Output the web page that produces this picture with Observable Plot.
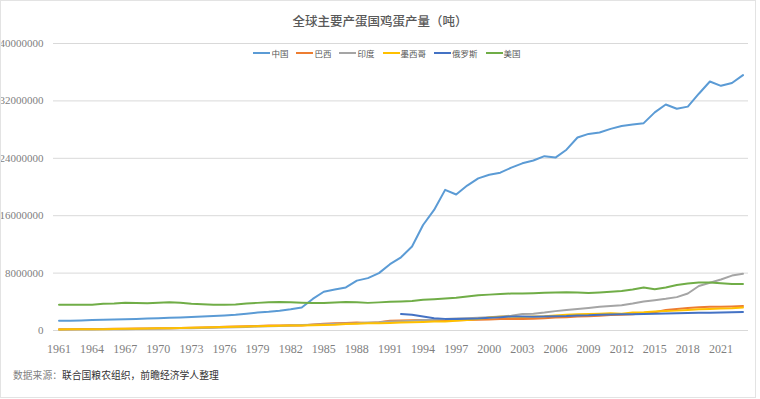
<!DOCTYPE html>
<html>
<head>
<meta charset="utf-8">
<script src="https://cdn.jsdelivr.net/npm/d3@7"></script>
<script src="https://cdn.jsdelivr.net/npm/@observablehq/plot@0.6"></script>
<style>
  html, body { margin: 0; padding: 0; background: #fff; }
  #wrap { position: relative; width: 760px; height: 399px; overflow: hidden; }
  #frame { position: absolute; left: 0; top: 0; width: 754px; height: 396px; border: 1px solid #e3e3e3; pointer-events: none; }
  #title { position: absolute; left: 0; width: 760px; top: 11px; text-align: center;
           font-family: "Noto Sans CJK SC", sans-serif; font-size: 12.5px; font-weight: 500; color: #595959; }
  #legend { position: absolute; left: 0; width: 774px; top: 47px; display: flex; justify-content: center; gap: 8px;
            font-family: "Noto Sans CJK SC", sans-serif; font-size: 8.5px; color: #595959; }
  #legend .item { display: flex; align-items: center; gap: 1px; }
  #legend .sw { width: 17px; height: 2px; display: inline-block; }
  #caption { position: absolute; left: 13px; top: 368px; font-family: "Noto Sans CJK SC", sans-serif; font-size: 9.8px; color: #333; }
  #caption .lab { color: #808080; }
  svg { position: absolute; left: 0; top: 0; }
  svg text { font-family: "Liberation Serif", "DejaVu Serif", serif; }
</style>
</head>
<body>
<div id="wrap">
  <div id="chart"></div>
  <div id="title">全球主要产蛋国鸡蛋产量（吨）</div>
  <div id="legend"></div>
  <div id="caption"><span class="lab">数据来源：</span>联合国粮农组织，前瞻经济学人整理</div>
  <div id="frame"></div>
</div>
<script>
const years = [1961,1962,1963,1964,1965,1966,1967,1968,1969,1970,
  1971,1972,1973,1974,1975,1976,1977,1978,1979,1980,
  1981,1982,1983,1984,1985,1986,1987,1988,1989,1990,
  1991,1992,1993,1994,1995,1996,1997,1998,1999,2000,
  2001,2002,2003,2004,2005,2006,2007,2008,2009,2010,
  2011,2012,2013,2014,2015,2016,2017,2018,2019,2020,
  2021,2022,2023];

const seriesNames = ["中国","巴西","印度","墨西哥","俄罗斯","美国"];
const seriesColors = ["#5B9BD5","#ED7D31","#A5A5A5","#FFC000","#4472C4","#70AD47"];

// values in million tonnes (converted to tonnes below)
const china = [1.35,1.37,1.40,1.45,1.50,1.53,1.58,1.62,1.66,1.70,
  1.76,1.82,1.88,1.94,2.02,2.10,2.20,2.35,2.50,2.60,
  2.75,2.95,3.20,4.40,5.40,5.70,6.00,6.95,7.30,8.00,
  9.24,10.2,11.7,14.7,16.8,19.6,18.95,20.2,21.2,21.7,
  22.0,22.7,23.3,23.7,24.3,24.1,25.2,26.9,27.4,27.6,
  28.1,28.5,28.7,28.9,30.4,31.5,30.9,31.2,33.0,34.7,
  34.1,34.5,35.6];
const brazil = [0.18,0.19,0.20,0.21,0.22,0.23,0.25,0.27,0.29,0.30,
  0.32,0.35,0.38,0.42,0.46,0.52,0.56,0.60,0.64,0.68,
  0.70,0.72,0.70,0.82,0.95,1.00,1.05,1.10,1.05,1.15,
  1.35,1.40,1.42,1.45,1.48,1.45,1.42,1.45,1.50,1.55,
  1.60,1.60,1.60,1.65,1.72,1.80,1.85,1.95,2.00,2.05,
  2.15,2.20,2.25,2.40,2.55,2.85,3.00,3.15,3.25,3.30,
  3.30,3.35,3.43];
const india = [0.12,0.13,0.14,0.15,0.16,0.17,0.19,0.21,0.23,0.25,
  0.27,0.30,0.33,0.35,0.38,0.42,0.46,0.50,0.55,0.60,
  0.64,0.70,0.75,0.80,0.88,0.92,0.96,1.00,1.10,1.15,
  1.25,1.30,1.35,1.45,1.50,1.60,1.68,1.72,1.78,1.85,
  1.95,2.05,2.30,2.35,2.50,2.70,2.85,3.00,3.15,3.30,
  3.40,3.52,3.75,4.05,4.23,4.42,4.65,5.15,6.20,6.65,
  7.10,7.65,7.90];
const mexico = [0.15,0.16,0.17,0.18,0.19,0.21,0.23,0.25,0.27,0.30,
  0.33,0.36,0.40,0.42,0.45,0.48,0.52,0.56,0.60,0.62,
  0.65,0.68,0.70,0.72,0.75,0.80,0.90,0.95,1.00,1.00,
  1.05,1.10,1.15,1.20,1.24,1.25,1.35,1.45,1.60,1.80,
  1.90,1.90,1.88,1.95,2.00,2.10,2.20,2.25,2.30,2.35,
  2.40,2.35,2.50,2.55,2.65,2.72,2.77,2.87,2.95,3.00,
  3.05,3.10,3.20];
const russia = [null,null,null,null,null,null,null,null,null,null,
  null,null,null,null,null,null,null,null,null,null,
  null,null,null,null,null,null,null,null,null,null,
  null,2.30,2.18,1.95,1.72,1.62,1.62,1.65,1.68,1.77,
  1.86,1.95,1.95,1.90,1.95,2.00,2.02,2.08,2.12,2.20,
  2.22,2.25,2.27,2.30,2.35,2.38,2.41,2.44,2.46,2.49,
  2.52,2.55,2.58];
const usa = [3.58,3.58,3.58,3.60,3.72,3.75,3.88,3.85,3.80,3.86,
  3.94,3.88,3.72,3.66,3.60,3.60,3.62,3.75,3.85,3.95,
  3.98,3.95,3.88,3.82,3.85,3.90,3.98,3.95,3.85,3.92,
  4.00,4.05,4.12,4.28,4.35,4.45,4.55,4.75,4.92,5.00,
  5.08,5.15,5.15,5.20,5.25,5.30,5.32,5.30,5.22,5.30,
  5.40,5.50,5.70,6.00,5.75,6.00,6.35,6.55,6.68,6.68,
  6.58,6.48,6.48];

const xTicks = [1961,1964,1967,1970,1973,1976,1979,1982,1985,1988,1991,1994,1997,2000,2003,2006,2009,2012,2015,2018,2021];
const yTicks = [0,8000000,16000000,24000000,32000000,40000000];

const seriesValues = [china, brazil, india, mexico, russia, usa];
const rows = [];
seriesValues.forEach((vals, si) => {
  vals.forEach((v, i) => {
    if (v != null) rows.push({series: seriesNames[si], year: years[i], value: v * 1e6});
  });
});

const lines = seriesNames.map((name, si) =>
  Plot.line(rows.filter(r => r.series === name), {
    x: "year", y: "value", stroke: seriesColors[si], strokeWidth: 2, strokeLinejoin: "round", strokeLinecap: "round"
  })
);

const serif = "'Liberation Serif', 'DejaVu Serif', serif";
const chart = Plot.plot({
  width: 760,
  height: 399,
  marginTop: 43,
  marginBottom: 69,
  marginLeft: 53,
  marginRight: 12,
  style: {fontFamily: serif, fontSize: "11.5px", color: "#7f7f7f", background: "transparent"},
  x: {domain: [1960.5, 2023.5], label: null},
  y: {domain: [0, 40000000], label: null},
  marks: [
    Plot.gridY(yTicks, {stroke: "#d9d9d9", strokeOpacity: 1, strokeWidth: 1}),
    Plot.axisX(xTicks, {tickSize: 0, tickPadding: 14, tickFormat: d => String(d), fill: "#7f7f7f", fontSize: 12, fontFamily: serif, label: null}),
    Plot.axisY(yTicks, {tickSize: 0, tickPadding: 10, tickFormat: d => String(d), fill: "#7f7f7f", fontSize: 11, fontFamily: serif, label: null}),
    ...lines
  ]
});
document.getElementById("chart").appendChild(chart);

const legend = document.getElementById("legend");
seriesNames.forEach((name, i) => {
  const item = document.createElement("div");
  item.className = "item";
  const sw = document.createElement("span");
  sw.className = "sw";
  sw.style.background = seriesColors[i];
  const t = document.createElement("span");
  t.textContent = name;
  item.appendChild(sw);
  item.appendChild(t);
  legend.appendChild(item);
});
</script>
</body>
</html>
